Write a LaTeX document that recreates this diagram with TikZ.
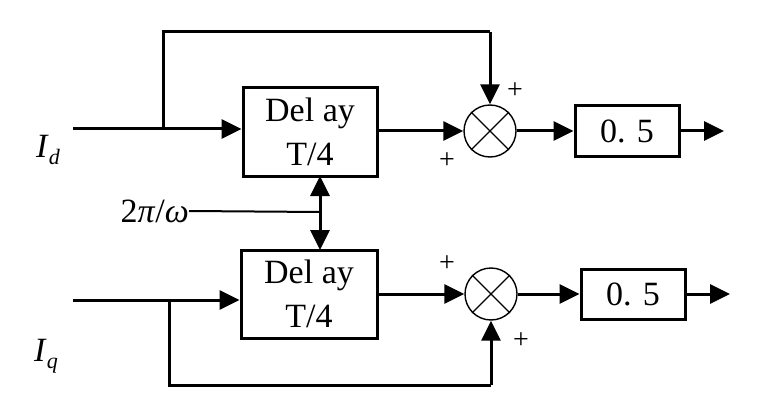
\documentclass[tikz,border=0pt]{standalone}
\usepackage{fontspec}
\setmainfont{Liberation Serif}
\usetikzlibrary{arrows.meta}
\newcommand{\subl}[2]{\textit{#1}\raisebox{-7pt}{\fontsize{22}{22}\selectfont\textit{#2}}}
\begin{document}
\begin{tikzpicture}[x=1pt,y=-1pt,
  blk/.style={draw, line width=3pt, inner sep=0pt, font=\fontsize{34}{44}\selectfont, align=center},
  sumj/.style={draw, circle, line width=1.4pt, minimum size=52pt, inner sep=0pt},
  wire/.style={line width=3pt},
  arr/.style={wire, -{Triangle[length=20pt,width=19pt]}},
  sgn/.style={font=\fontsize{28}{28}\selectfont, inner sep=0pt},
  lbl/.style={font=\fontsize{34}{34}\selectfont, inner sep=0pt}]
\useasboundingbox (0,0) rectangle (760,417);
% top branch
\node[blk, minimum width=134pt, minimum height=88pt] (d1) at (310,132) {Del ay\\T/4};
\node[sumj] (s1) at (490,131) {};
\draw[line width=1.4pt] (s1.45) -- (s1.225) (s1.135) -- (s1.315);
\node[blk, minimum width=104pt, minimum height=50pt] (g1) at (627,131) {0. 5};
\coordinate (in1) at (73,129);
\coordinate (b1) at (163,129);
\coordinate (o1) at (724,131);
\draw[arr] (in1) -- (d1.west |- in1);
\draw[wire] (b1) |- (490,32) coordinate (t1);
\draw[arr] (t1) -- (s1.north);
\draw[arr] (d1.east |- s1) -- (s1.west);
\draw[arr] (s1.east) -- (g1.west);
\draw[arr] (g1.east) -- (o1);
\node[sgn] (p1) at (515,91) {+};
\node[sgn] (p2) at (447,161) {+};
\node[lbl] (Id) at (48,150) {\subl{I}{d}};
% bottom branch
\node[blk, minimum width=136pt, minimum height=88pt] (d2) at (309,294) {Del ay\\T/4};
\node[sumj] (s2) at (491,294) {};
\draw[line width=1.4pt] (s2.45) -- (s2.225) (s2.135) -- (s2.315);
\node[blk, minimum width=104pt, minimum height=50pt] (g2) at (633,294) {0. 5};
\coordinate (in2) at (73,300);
\coordinate (b2) at (169,300);
\coordinate (o2) at (730,294);
\draw[arr] (in2) -- (d2.west |- in2);
\draw[wire] (b2) |- (491,385) coordinate (t2);
\draw[arr] (t2) -- (s2.south);
\draw[arr] (d2.east |- s2) -- (s2.west);
\draw[arr] (s2.east) -- (g2.west);
\draw[arr] (g2.east) -- (o2);
\node[sgn] (p3) at (447,264) {+};
\node[sgn] (p4) at (521,341) {+};
\node[lbl] (Iq) at (46,356) {\subl{I}{q}};
% period input
\node[lbl, anchor=east] (w) at (189,211) {2\textit{π}/\textit{ω}};
\coordinate (j) at (320,212);
\draw[line width=2pt] (w.east) -- (j);
\draw[arr] (j) -- (320,176);
\draw[arr] (j) -- (320,250);
\end{tikzpicture}
\end{document}
